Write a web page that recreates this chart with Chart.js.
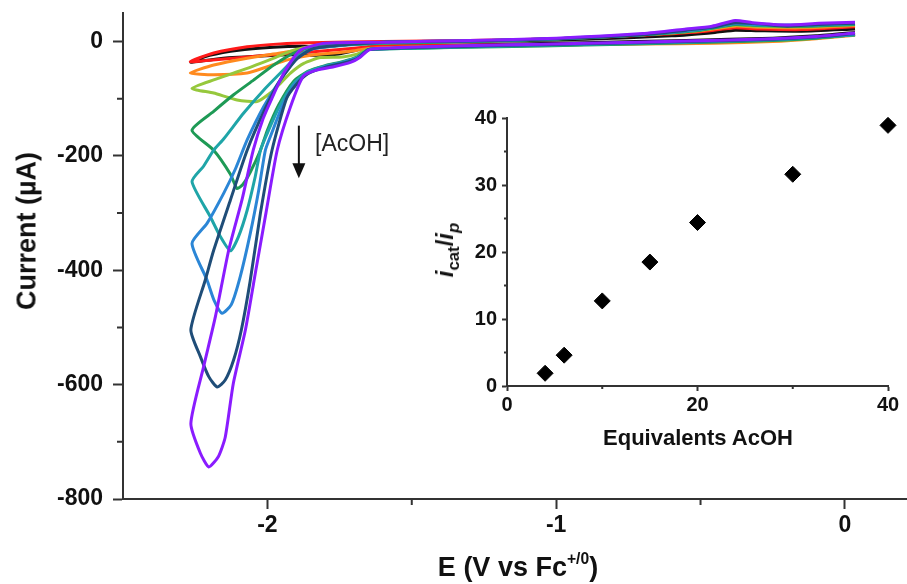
<!DOCTYPE html>
<html>
<head>
<meta charset="utf-8">
<script src="https://cdn.jsdelivr.net/npm/chart.js@4.4.1/dist/chart.umd.min.js"></script>
<style>
  body { margin: 0; background: #fff; }
  #wrap { position: relative; width: 907px; height: 584px; font-family: "Liberation Sans", Arial, sans-serif; color: #111; }
  canvas { position: absolute; }
  .t { position: absolute; font-weight: bold; white-space: nowrap; line-height: 1; transform: translate(-50%, -50%); }
  .rot { transform: translate(-50%, -50%) rotate(-90deg); }
  sup { font-size: 58%; position: relative; top: -0.75em; vertical-align: baseline; }
  sub { font-size: 70%; position: relative; top: 0.35em; vertical-align: baseline; }
</style>
</head>
<body>
<div id="wrap">
  <canvas id="main" width="907" height="584" style="left:0;top:0"></canvas>
  <canvas id="inset" width="507" height="380" style="left:400px;top:90px"></canvas>
  <div class="t" style="left:518px;top:567px;font-size:27px">E (V vs Fc<sup>+/0</sup>)</div>
  <div class="t rot" style="left:27px;top:231px;font-size:27px">Current (µA)</div>
  <div class="t" style="left:698px;top:438px;font-size:22px">Equivalents AcOH</div>
  <div class="t rot" style="left:445px;top:250px;font-size:24px"><i>i</i><sub>cat</sub>/<i>i</i><sub><i>p</i></sub></div>
</div>
<script>
// CV traces, [E (V vs Fc), current (uA)]
const blackCV = [
  [0.035,16],[-0.1,10],[-0.25,6],[-0.55,2],[-0.9,-2],[-1.2,-5],[-1.45,-7],[-1.62,-9],
  [-1.65,-10],[-1.7,-16],[-1.76,-22],[-1.84,-24],[-1.92,-23],[-2.02,-25],[-2.12,-28],[-2.2,-32],[-2.265,-36],
  [-2.2,-24],[-2.1,-15],[-1.98,-10],[-1.88,-8],[-1.8,-9],[-1.74,-6],[-1.68,-3],
  [-1.5,-1],[-1.2,1],[-0.9,4],[-0.6,10],[-0.45,16],[-0.38,20],[-0.3,19],[-0.15,18],[0.035,22]
];
const redCV = [
  [0.035,12],[-0.1,7],[-0.25,3],[-0.55,-1],[-0.9,-4],[-1.2,-6],[-1.45,-7],[-1.62,-8],
  [-1.65,-9],[-1.75,-14],[-1.85,-18],[-1.96,-22],[-2.07,-27],[-2.19,-32],[-2.267,-35],
  [-2.186,-20],[-2.07,-9],[-1.955,-4],[-1.85,-2],
  [-1.6,0],[-1.3,2],[-1.0,5],[-0.7,11],[-0.5,17],[-0.38,24],[-0.3,22],[-0.15,21],[0.035,26]
];
const orangeCV = [
  [0.035,11],[-0.1,5],[-0.25,0],[-0.45,-3],[-0.7,-4],[-0.9,-5],[-1.2,-7],[-1.45,-9],[-1.62,-11],
  [-1.65,-12],[-1.7,-16],[-1.75,-19],[-1.84,-23],[-1.93,-32],[-2.0,-44],[-2.07,-55],[-2.186,-58],[-2.267,-55],
  [-2.186,-41],[-2.07,-29],[-1.955,-20],[-1.86,-12],[-1.75,-6],
  [-1.6,-2],[-1.3,1],[-1.0,5],[-0.7,12],[-0.5,19],[-0.38,27],[-0.3,25],[-0.15,24],[0.035,28]
];
const limeCV = [
  [0.035,12],[-0.1,6],[-0.25,2],[-0.55,-1],[-0.9,-5],[-1.2,-8],[-1.45,-10],[-1.62,-12],
  [-1.65,-13],[-1.69,-22],[-1.74,-27],[-1.816,-28],[-1.874,-38],[-1.92,-55],[-1.955,-73],[-1.99,-90],[-2.036,-105],[-2.105,-102],[-2.186,-90],[-2.261,-82],
  [-2.186,-67],[-2.07,-47],[-1.978,-29],[-1.909,-15],[-1.82,-6],
  [-1.6,-2],[-1.3,1],[-1.0,5],[-0.7,12],[-0.5,20],[-0.38,29],[-0.3,27],[-0.15,26],[0.035,30]
];
const greenCV = [
  [0.035,12],[-0.1,6],[-0.25,2],[-0.55,-2],[-0.9,-6],[-1.2,-9],[-1.45,-11],[-1.62,-13],
  [-1.65,-14],[-1.69,-27],[-1.74,-35],[-1.8,-42],[-1.86,-52],[-1.91,-70],[-1.96,-110],[-2.0,-155],[-2.024,-190],[-2.059,-228],[-2.085,-250],[-2.105,-257],[-2.128,-232],[-2.186,-190],[-2.261,-155],
  [-2.186,-122],[-2.117,-93],[-2.047,-67],[-1.978,-41],[-1.909,-20],[-1.84,-9],
  [-1.6,-3],[-1.3,0],[-1.0,4],[-0.7,12],[-0.5,20],[-0.38,30],[-0.3,28],[-0.15,27],[0.035,30]
];
const tealCV = [
  [0.035,12],[-0.1,7],[-0.25,3],[-0.55,-1],[-0.9,-5],[-1.2,-8],[-1.45,-11],[-1.62,-13],
  [-1.65,-14],[-1.69,-28],[-1.74,-36],[-1.8,-43],[-1.86,-53],[-1.91,-74],[-1.96,-115],[-2.0,-160],[-2.024,-190],[-2.042,-236],[-2.07,-295],[-2.1,-341],[-2.128,-366],[-2.163,-341],[-2.198,-306],[-2.261,-245],
  [-2.221,-218],[-2.186,-190],[-2.151,-170],[-2.082,-125],[-2.013,-85],[-1.955,-55],[-1.897,-26],[-1.84,-12],
  [-1.6,-2],[-1.3,1],[-1.0,5],[-0.7,12],[-0.5,21],[-0.38,31],[-0.3,29],[-0.15,28],[0.035,31]
];
const blueCV = [
  [0.035,13],[-0.1,8],[-0.25,4],[-0.55,0],[-0.9,-4],[-1.2,-7],[-1.45,-10],[-1.62,-13],
  [-1.65,-14],[-1.69,-29],[-1.74,-37],[-1.8,-44],[-1.86,-55],[-1.91,-78],[-1.95,-115],[-1.985,-160],[-2.007,-190],[-2.03,-260],[-2.059,-335],[-2.094,-411],[-2.125,-460],[-2.157,-475],[-2.185,-452],[-2.209,-417],[-2.261,-353],
  [-2.209,-318],[-2.151,-265],[-2.11,-222],[-2.07,-172],[-2.013,-114],[-1.955,-67],[-1.897,-29],[-1.84,-12],
  [-1.6,-1],[-1.3,1],[-1.0,5],[-0.7,13],[-0.5,22],[-0.38,32],[-0.3,30],[-0.15,29],[0.035,32]
];
const navyCV = [
  [0.035,14],[-0.1,8],[-0.25,4],[-0.55,0],[-0.9,-4],[-1.2,-7],[-1.45,-10],[-1.62,-13],
  [-1.65,-14],[-1.69,-30],[-1.74,-38],[-1.8,-45],[-1.86,-56],[-1.9,-75],[-1.934,-100],[-1.984,-190],[-2.024,-300],[-2.06,-420],[-2.09,-504],[-2.117,-557],[-2.146,-592],[-2.174,-604],[-2.203,-586],[-2.232,-551],[-2.265,-504],
  [-2.215,-417],[-2.186,-365],[-2.128,-277],[-2.07,-190],[-2.01,-120],[-1.955,-67],[-1.897,-30],[-1.84,-12],
  [-1.6,-1],[-1.3,1],[-1.0,5],[-0.7,12],[-0.55,20],[-0.46,25],[-0.38,33],[-0.3,31],[-0.2,27],[-0.09,30],[0.035,32]
];
const purpleCV = [
  [0.035,15],[-0.1,9],[-0.25,5],[-0.55,1],[-0.9,-3],[-1.2,-6],[-1.45,-9],[-1.62,-12],
  [-1.65,-15],[-1.68,-28],[-1.71,-36],[-1.77,-44],[-1.83,-50],[-1.875,-60],[-1.92,-114],[-1.966,-190],[-2.005,-300],[-2.04,-400],[-2.076,-504],[-2.118,-598],[-2.146,-692],[-2.17,-726],[-2.203,-744],[-2.232,-720],[-2.265,-668],
  [-2.221,-569],[-2.18,-481],[-2.134,-365],[-2.088,-277],[-2.049,-190],[-2.015,-135],[-1.985,-100],[-1.943,-55],[-1.886,-15],
  [-1.8,-3],[-1.6,-1],[-1.3,2],[-1.0,6],[-0.7,14],[-0.55,22],[-0.46,27],[-0.38,37],[-0.32,33],[-0.2,29],[-0.09,32],[0.035,34]
];

const traces = [blackCV, redCV, orangeCV, limeCV, greenCV, tealCV, blueCV, navyCV, purpleCV];
const traceColors = ['#111111', '#ff1a1a', '#ff8a1e', '#96c83c', '#1e9a55', '#1fa5a8', '#2b86d6', '#1f4d78', '#8a1cff'];

// inset: catalytic enhancement vs acid equivalents
const equivalents = [4, 6, 10, 15, 20, 30, 40];
const icatOverIp = [1.9, 4.6, 12.7, 18.5, 24.4, 31.6, 38.9];

// ticks
const xTicks = [-2, -1, 0];
const xTickLabels = ['-2', '-1', '0'];
const xMinor = [-1.5, -0.5];
const yTicks = [-800, -600, -400, -200, 0];
const yTickLabels = ['-800', '-600', '-400', '-200', '0'];
const yMinor = [-700, -500, -300, -100];
const inXTicks = [0, 20, 40];
const inXMinor = [10, 30];
const inYTicks = [0, 10, 20, 30, 40];
const inYMinor = [5, 15, 25, 35];

const FONT = '"Liberation Sans", Arial, sans-serif';
const AXIS = '#333';

function minorTicks(xs, ys, len) {
  return {
    id: 'minorTicks',
    afterDraw(chart) {
      const { ctx, chartArea: a, scales } = chart;
      ctx.save();
      ctx.strokeStyle = AXIS;
      ctx.lineWidth = 2;
      ctx.beginPath();
      xs.forEach(v => {
        const px = scales.x.getPixelForValue(v);
        ctx.moveTo(px, a.bottom);
        ctx.lineTo(px, a.bottom + len);
      });
      ys.forEach(v => {
        const py = scales.y.getPixelForValue(v);
        ctx.moveTo(a.left, py);
        ctx.lineTo(a.left - len, py);
      });
      ctx.stroke();
      ctx.restore();
    }
  };
}

// arrow + [AcOH] note, placed in data coordinates
const arrowNote = {
  id: 'arrowNote',
  afterDatasetsDraw(chart) {
    const { ctx, scales: { x, y } } = chart;
    const ax = x.getPixelForValue(-1.891);
    const y0 = y.getPixelForValue(-147);
    const y1 = y.getPixelForValue(-239);
    ctx.save();
    ctx.strokeStyle = '#111';
    ctx.fillStyle = '#111';
    ctx.lineWidth = 2;
    ctx.beginPath();
    ctx.moveTo(ax, y0);
    ctx.lineTo(ax, y1 - 12);
    ctx.stroke();
    ctx.beginPath();
    ctx.moveTo(ax - 6.5, y1 - 15);
    ctx.lineTo(ax + 6.5, y1 - 15);
    ctx.lineTo(ax, y1);
    ctx.closePath();
    ctx.fill();
    ctx.font = '23px ' + FONT;
    ctx.fillStyle = '#222';
    ctx.textBaseline = 'alphabetic';
    ctx.fillText('[AcOH]', x.getPixelForValue(-1.835), y.getPixelForValue(-192));
    ctx.restore();
  }
};

function axisOpts(tickLen, fontSize, pad) {
  return {
    type: 'linear',
    grid: { display: true, drawOnChartArea: false, drawTicks: true, tickLength: tickLen, tickWidth: 2, tickColor: AXIS },
    border: { display: true, color: AXIS, width: 2 },
    ticks: { font: { family: FONT, size: fontSize, weight: 'bold' }, color: '#111', padding: pad, maxRotation: 0, autoSkip: false }
  };
}

const datasets = traces.map((t, i) => ({
  data: t.map(p => ({ x: p[0], y: p[1] })),
  borderColor: traceColors[i],
  borderWidth: 3,
  pointRadius: 0,
  showLine: true,
  tension: 0.2,
  order: traces.length - i
}));

const mx = axisOpts(10, 23, 3);
mx.min = -2.5; mx.max = 0.215;
mx.afterBuildTicks = s => { s.ticks = xTicks.map(v => ({ value: v })); };
mx.afterFit = s => { s.height = 85; s.paddingLeft = 0; s.paddingRight = 0; };
mx.ticks.callback = (v, i) => xTickLabels[i];

const my = axisOpts(10, 23, 10);
my.min = -800; my.max = 50;
my.afterBuildTicks = s => { s.ticks = yTicks.map(v => ({ value: v })); };
my.afterFit = s => { s.width = 123; s.paddingTop = 0; s.paddingBottom = 0; };
my.ticks.callback = (v, i) => yTickLabels[i];

new Chart(document.getElementById('main'), {
  type: 'scatter',
  data: { datasets },
  options: {
    responsive: false,
    animation: false,
    devicePixelRatio: 1,
    layout: { padding: { left: 0, right: 0, top: 13, bottom: 0 } },
    plugins: { legend: { display: false }, tooltip: { enabled: false } },
    scales: { x: mx, y: my }
  },
  plugins: [minorTicks(xMinor, yMinor, 6), arrowNote]
});

const ix = axisOpts(5, 20, 2);
ix.min = 0; ix.max = 40;
ix.afterBuildTicks = s => { s.ticks = inXTicks.map(v => ({ value: v })); };
ix.afterFit = s => { s.height = 84; s.paddingLeft = 0; s.paddingRight = 0; };
ix.ticks.callback = v => String(v);

const iy = axisOpts(5, 20, 5);
iy.min = 0; iy.max = 40;
iy.afterBuildTicks = s => { s.ticks = inYTicks.map(v => ({ value: v })); };
iy.afterFit = s => { s.width = 107; s.paddingTop = 0; s.paddingBottom = 0; };
iy.ticks.callback = v => String(v);

new Chart(document.getElementById('inset'), {
  type: 'scatter',
  data: {
    datasets: [{
      data: equivalents.map((e, i) => ({ x: e, y: icatOverIp[i] })),
      pointStyle: 'rectRot',
      pointRadius: 8,
      pointBorderWidth: 1,
      backgroundColor: '#000',
      borderColor: '#000',
      clip: false
    }]
  },
  options: {
    responsive: false,
    animation: false,
    devicePixelRatio: 1,
    layout: { padding: { left: 0, right: 19, top: 28, bottom: 0 } },
    plugins: { legend: { display: false }, tooltip: { enabled: false } },
    scales: { x: ix, y: iy }
  },
  plugins: [minorTicks(inXMinor, inYMinor, 3)]
});
</script>
</body>
</html>
